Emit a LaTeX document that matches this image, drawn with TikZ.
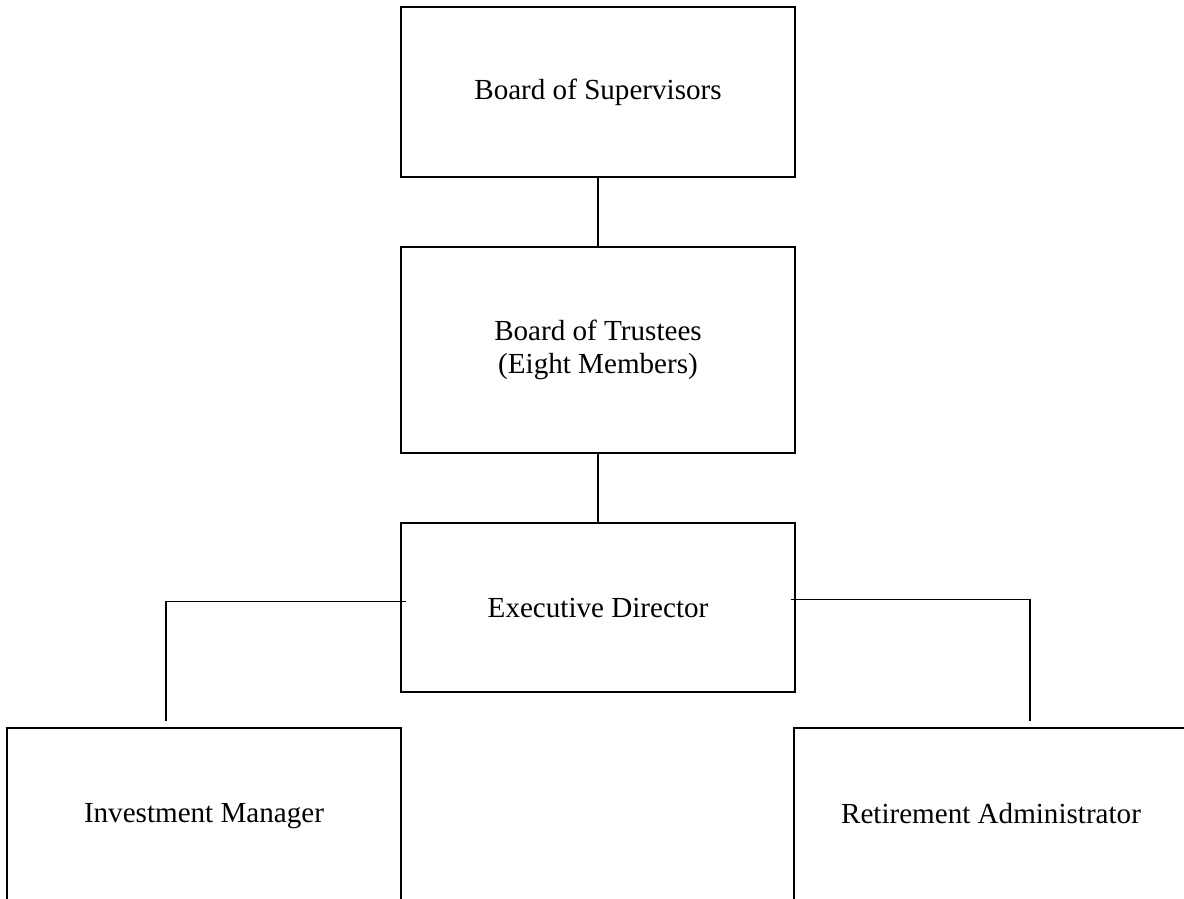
\documentclass[tikz,border=0pt]{standalone}
\usepackage{fontspec}
\setmainfont{Liberation Serif}
\usepackage{tikz}

\begin{document}
\begin{tikzpicture}[
        orgbox/.style = {draw, rectangle, align=center, line width=0.9pt, minimum width=9.85cm, font=\fontsize{20.7}{23.6}\selectfont},
        orgline/.style = {line width=0.9pt}
    ]
                \useasboundingbox (0, 0) rectangle (29.6, -22.45);
                \draw
                    (14.95,  -2.3 ) node[orgbox, minimum height = 4.25cm](sup){Board of Supervisors}
                    (14.95,  -8.75) node[orgbox, minimum height = 5.15cm](trust){Board of Trustees\\(Eight Members)}
                    (14.95, -15.19) node[orgbox, minimum height = 4.225cm](exec){Executive Director}

                    ( 5.1 , -20.375) node[orgbox, minimum height = 4.35cm, text depth = 0.22em](invest){Investment Manager}
                    (24.775, -20.375) node[orgbox, minimum height = 4.35cm, text depth = 0.22em](admin){Retirement Administrator}
                ;
                \draw [orgline] (sup)   -- (trust);
                \draw [orgline] (trust) -- (exec);
                \draw [orgline] ([shift={(0.15, 0.16)}]exec.west) -| ([shift={(-0.95, 0.15)}]invest.north);
                \draw [orgline] ([shift={(-0.125, 0.21)}]exec.east) -| ([shift={(0.975, 0.15)}]admin.north);
            \end{tikzpicture}
\end{document}
